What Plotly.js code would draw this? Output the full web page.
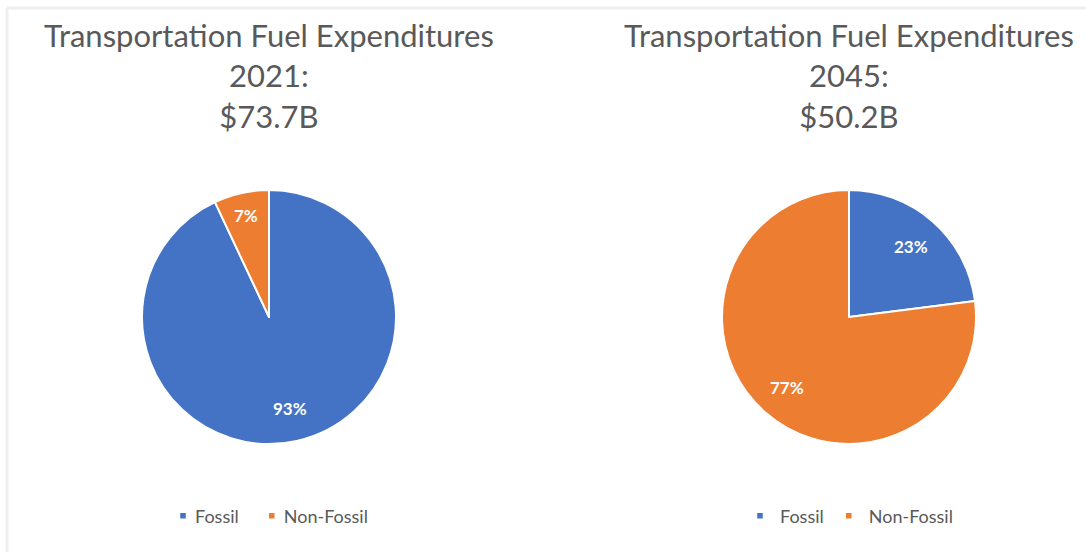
<!DOCTYPE html>
<html>
<head>
<meta charset="utf-8">
<script src="https://cdn.plot.ly/plotly-3.0.1.min.js"></script>
<style>
html,body{margin:0;padding:0;background:#fff;}
#chart{width:1086px;height:552px;}
</style>
</head>
<body>
<div id="chart"></div>
<script>
var categories = ["Fossil", "Non-Fossil"];
var values2021 = [93, 7];
var values2045 = [23, 77];
var titles = ["Transportation Fuel Expenditures<br>2021:<br>$73.7B", "Transportation Fuel Expenditures<br>2045:<br>$50.2B"];
var colors = ["#4472C4", "#ED7D31"];

var W = 1086, H = 552, R = 127;
var centers = [[269, 317], [849, 317]];
function dom(cx, cy, r) {
  return {x: [(cx - r) / W, (cx + r) / W], y: [1 - (cy + r) / H, 1 - (cy - r) / H]};
}
function pie(labels, vals, d, leg) {
  return {
    type: "pie", labels: labels, values: vals, domain: d, legend: leg,
    sort: false, direction: "clockwise", rotation: 0,
    marker: {colors: colors, line: {color: "#ffffff", width: 2}},
    textinfo: "none",
    hoverinfo: "label+percent", showlegend: true
  };
}
// second pie gets its own legend; labels kept distinct internally (zero-width mark) so both legends show
var labels2 = categories.map(function (c) { return c + "\u200B"; });
var data = [
  pie(categories, values2021, dom(centers[0][0], centers[0][1], R), "legend"),
  pie(labels2, values2045, dom(centers[1][0], centers[1][1], R), "legend2")
];

// percentage labels placed at each slice's mid-angle
var annotations = [];
[values2021, values2045].forEach(function (vals, k) {
  var tot = vals.reduce(function (a, b) { return a + b; }, 0);
  var acc = 0;
  vals.forEach(function (v) {
    var f = v / tot;
    var mid = (acc + f / 2) * 2 * Math.PI;
    acc += f;
    var rf = f < 0.1 ? 0.82 : 0.74;
    var px = centers[k][0] + Math.sin(mid) * R * rf;
    var py = centers[k][1] - Math.cos(mid) * R * rf;
    annotations.push({
      text: Math.round(f * 100) + "%", x: px / W, y: 1 - py / H, xref: "paper", yref: "paper",
      xanchor: "center", yanchor: "middle", showarrow: false,
      font: {family: "Lato", size: 17, color: "#ffffff", weight: "bold"}
    });
  });
});
titles.forEach(function (t, k) {
  annotations.push({text: t, x: centers[k][0] / W, y: 1 - 14 / H, xref: "paper", yref: "paper",
    xanchor: "center", yanchor: "top", showarrow: false,
    font: {family: "Lato", size: 31, color: "#595959"}});
});

var legendCommon = {orientation: "h", xanchor: "center", yanchor: "middle", font: {family: "Lato", size: 18, color: "#595959"}, itemwidth: 30, bgcolor: "rgba(0,0,0,0)"};
var layout = {
  width: W, height: H, margin: {l: 0, r: 0, t: 0, b: 0},
  paper_bgcolor: "#ffffff",
  legend: Object.assign({x: 272 / W, y: 1 - 516 / H}, legendCommon),
  legend2: Object.assign({x: 849 / W, y: 1 - 516 / H}, legendCommon),
  annotations: annotations,
  shapes: [
    {type: "line", xref: "paper", yref: "paper", x0: 7 / W, x1: 1, y0: 1 - 8 / H, y1: 1 - 8 / H, line: {color: "#efefef", width: 3}},
    {type: "line", xref: "paper", yref: "paper", x0: 7 / W, x1: 7 / W, y0: 0, y1: 1 - 8 / H, line: {color: "#efefef", width: 3}}
  ]
};
Plotly.newPlot("chart", data, layout, {displayModeBar: false}).then(function (gd) {
  // shrink legend swatches to small squares and tighten the swatch-text gap like the reference
  gd.querySelectorAll(".legendpoints path").forEach(function (p) {
    p.setAttribute("transform", (p.getAttribute("transform") || "") + " scale(0.55)");
  });
  gd.querySelectorAll(".legendtext").forEach(function (t) {
    t.setAttribute("x", 32);
  });
});
</script>
</body>
</html>
